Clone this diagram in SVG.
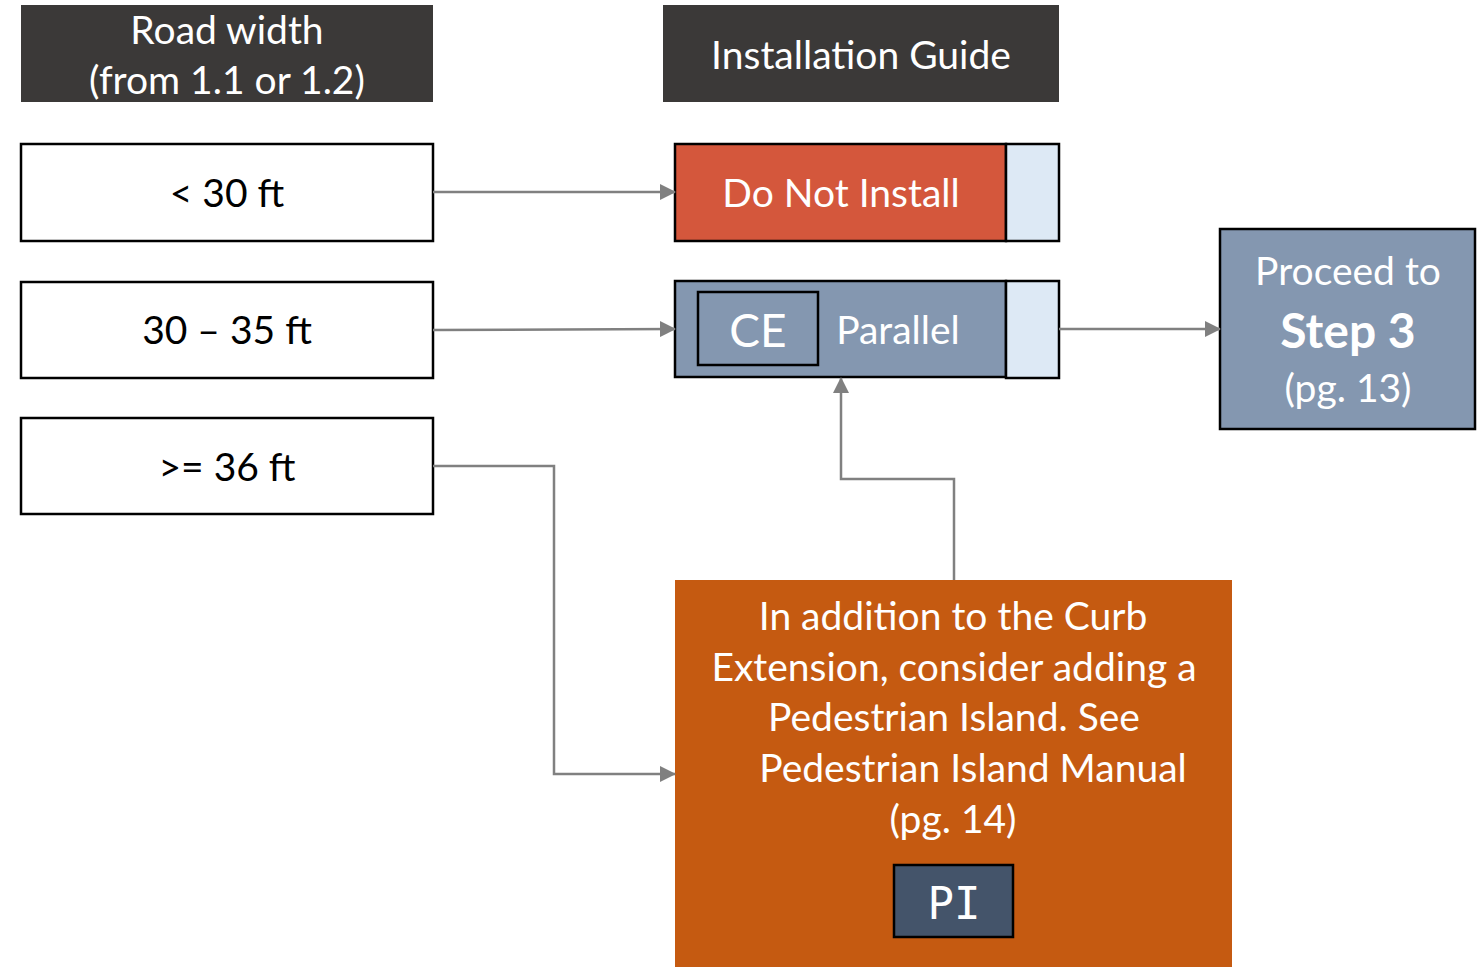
<svg xmlns="http://www.w3.org/2000/svg" width="1481" height="967" viewBox="0 0 1481 967">
<style>
.t{font-family:Lato,"Open Sans",sans-serif;font-size:39px;text-anchor:middle}
.w{fill:#ffffff}
.k{fill:#000000}
.hdr{fill:#3b3938}
.box{fill:#ffffff;stroke:#000;stroke-width:2.5}
.bd{stroke:#000;stroke-width:2.5}
.c{fill:none;stroke:#808080;stroke-width:2.5}
</style>
<defs>
<marker id="a" viewBox="0 0 16 16" refX="15" refY="8" markerWidth="16" markerHeight="16" markerUnits="userSpaceOnUse" orient="auto">
<path d="M0,0 L16,8 L0,16 Z" fill="#808080"/>
</marker>
</defs>
<g id="hdr-road">
<rect class="hdr" x="21" y="5" width="412" height="97"/>
<text class="t w" x="227" y="44">Road width</text>
<text class="t w" x="227" y="94">(from 1.1 or 1.2)</text>
</g>
<g id="hdr-guide">
<rect class="hdr" x="663" y="5" width="396" height="97"/>
<text class="t w" x="861" y="69">Installation Guide</text>
</g>
<g id="n-lt30">
<rect class="box" x="21" y="144" width="412" height="97"/>
<text class="t k" x="227" y="207">&lt; 30 ft</text>
</g>
<g id="n-30-35">
<rect class="box" x="21" y="282" width="412" height="96"/>
<text class="t k" x="227" y="344">30 – 35 ft</text>
</g>
<g id="n-ge36">
<rect class="box" x="21" y="418" width="412" height="96"/>
<text class="t k" x="227" y="481">&gt;= 36 ft</text>
</g>
<g id="n-donot">
<rect class="bd" x="675" y="144" width="331" height="97" fill="#d4573c"/>
<rect class="bd" x="1006" y="144" width="53" height="97" fill="#dde9f5"/>
<text class="t w" x="841" y="207">Do Not Install</text>
</g>
<g id="n-parallel">
<rect class="bd" x="675" y="281" width="331" height="96" fill="#8497b0"/>
<rect class="bd" x="1006" y="281" width="53" height="97" fill="#dde9f5"/>
<rect class="bd" x="698" y="292" width="120" height="73" fill="#8497b0"/>
<text class="t w" x="758" y="347" style="font-size:46px">CE</text>
<text class="t w" x="898" y="344">Parallel</text>
</g>
<g id="n-step3">
<rect class="bd" x="1220" y="229" width="255" height="200" fill="#8497b0"/>
<text class="t w" x="1348" y="285">Proceed to</text>
<text class="t w" x="1348" y="348" style="font-size:48px;font-weight:bold">Step 3</text>
<text class="t w" x="1348" y="402">(pg. 13)</text>
</g>
<g id="n-pi">
<rect x="675" y="580" width="557" height="387" fill="#c55a11"/>
<text class="t w" x="953" y="630">In addition to the Curb</text>
<text class="t w" x="954" y="681">Extension, consider adding a</text>
<text class="t w" x="954" y="731">Pedestrian Island. See</text>
<text class="t w" x="973" y="782">Pedestrian Island Manual</text>
<text class="t w" x="953" y="833">(pg. 14)</text>
<rect class="bd" x="894" y="865" width="119" height="72" fill="#44546a"/>
<text x="954" y="919" style="font-family:'DejaVu Sans Mono',monospace;font-size:44px;text-anchor:middle" fill="#ffffff">PI</text>
</g>
<g id="connectors">
<path class="c" d="M433,192 H675" marker-end="url(#a)"/>
<path class="c" d="M433,330 L675,329" marker-end="url(#a)"/>
<path class="c" d="M1059,329 H1220" marker-end="url(#a)"/>
<path class="c" d="M433,466 H554 V774 H675" marker-end="url(#a)"/>
<path class="c" d="M954,580 V479 H841 V378" marker-end="url(#a)"/>
</g>
</svg>
